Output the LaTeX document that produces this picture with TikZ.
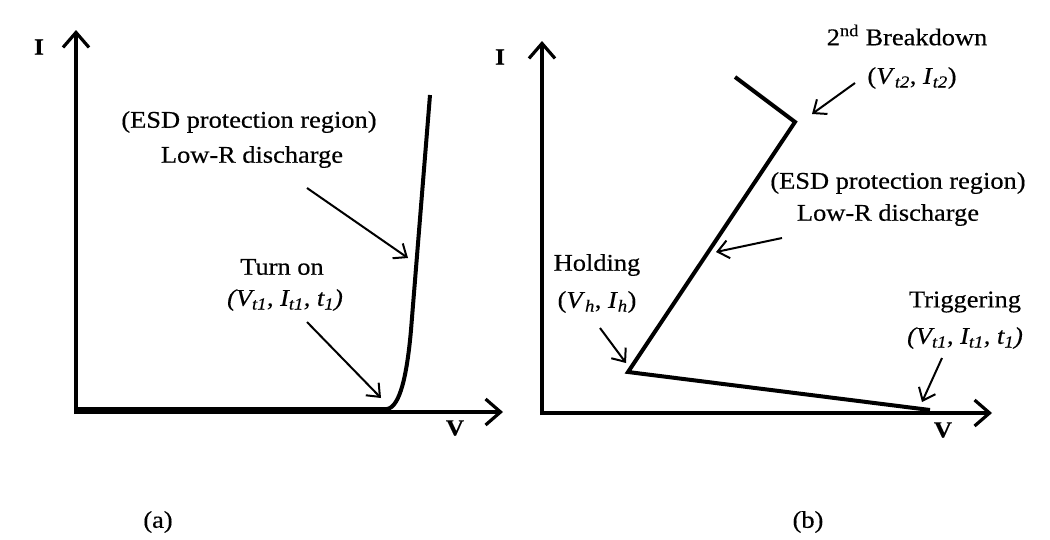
\documentclass[tikz,border=0pt]{standalone}
\usepackage{fontspec}
\setmainfont[FakeStretch=1.1,FakeBold=0.4]{Liberation Serif}
\usetikzlibrary{arrows.meta}
\newcommand\sbx[1]{\textsubscript{\textit{#1}}}
\begin{document}
\begin{tikzpicture}[x=1pt,y=-1pt,
  axis/.style={line width=4pt, -{Straight Barb[length=15pt,width=26pt,line width=3.2pt]}},
  curve/.style={line width=4pt, line join=miter},
  pointer/.style={line width=2pt, -{Straight Barb[length=11pt,width=18pt,line width=2pt]}},
  lbl/.style={font=\fontsize{24}{28}\selectfont, inner sep=0pt},
  axlbl/.style={font=\fontsize{23}{27}\selectfont\bfseries, inner sep=0pt}]
\useasboundingbox[fill=white] (0,0) rectangle (1050,539);

% ---------- panel (a) ----------
\coordinate (oa) at (76,412);
\coordinate (ya) at (76,30);
\coordinate (xa) at (503,412);
\draw[axis] ([yshift=-2pt]oa) -- (ya);
\draw[axis] (oa) -- (xa);
\node[axlbl] (Ia) at (39,47) {I};
\node[axlbl] (Va) at (455,428) {V};

\draw[curve] (76,409) -- (387,409) .. controls (400,407) and (407,375) .. (411,330) -- (430,95);

\node[lbl] (esda) at (249,122) {(ESD protection region)};
\node[lbl] (lowa) at (252,157) {Low-R discharge};
\coordinate (pa1s) at (307,188);
\coordinate (pa1e) at (408,258);
\draw[pointer] (pa1s) -- (pa1e);

\node[lbl] (turn) at (282,267) {Turn on};
\node[lbl] (turnv) at (285,300) {\textit{(V\sbx{t1}, I\sbx{t1}, t\sbx{1})}};
\coordinate (pa2s) at (307,322);
\coordinate (pa2e) at (381,398);
\draw[pointer] (pa2s) -- (pa2e);

\node[lbl] (capa) at (158,522) {(a)};

% ---------- panel (b) ----------
\coordinate (ob) at (542,413);
\coordinate (yb) at (542,41);
\coordinate (xb) at (992,413);
\draw[axis] ([yshift=-2pt]ob) -- (yb);
\draw[axis] (ob) -- (xb);
\node[axlbl] (Ib) at (500,57) {I};
\node[axlbl] (Vb) at (943,430) {V};

\coordinate (b0) at (735,77);
\coordinate (bk) at (795,122);
\coordinate (hd) at (628,372);
\coordinate (tr) at (930,410);
\draw[curve] (b0) -- (bk) -- (hd) -- (tr);

\node[lbl] (brk) at (907,35) {2\textsuperscript{nd} Breakdown};
\node[lbl] (brkv) at (912,78) {(\textit{V}\sbx{t2}, \textit{I}\sbx{t2})};
\coordinate (pb1s) at (855,83);
\coordinate (pb1e) at (812,114);
\draw[pointer] (pb1s) -- (pb1e);

\node[lbl] (esdb) at (898,183) {(ESD protection region)};
\node[lbl] (lowb) at (888,215) {Low-R discharge};
\coordinate (pb2s) at (782,238);
\coordinate (pb2e) at (716,252);
\draw[pointer] (pb2s) -- (pb2e);

\node[lbl] (hold) at (597,265) {Holding};
\node[lbl] (holdv) at (597,302) {(\textit{V}\sbx{h}, \textit{I}\sbx{h})};
\coordinate (pb3s) at (600,328);
\coordinate (pb3e) at (626,363);
\draw[pointer] (pb3s) -- (pb3e);

\node[lbl] (trig) at (965,302) {Triggering};
\node[lbl] (trigv) at (965,338) {\textit{(V\sbx{t1}, I\sbx{t1}, t\sbx{1})}};
\coordinate (pb4s) at (942,358);
\coordinate (pb4e) at (922,402);
\draw[pointer] (pb4s) -- (pb4e);

\node[lbl] (capb) at (808,522) {(b)};
\end{tikzpicture}
\end{document}
